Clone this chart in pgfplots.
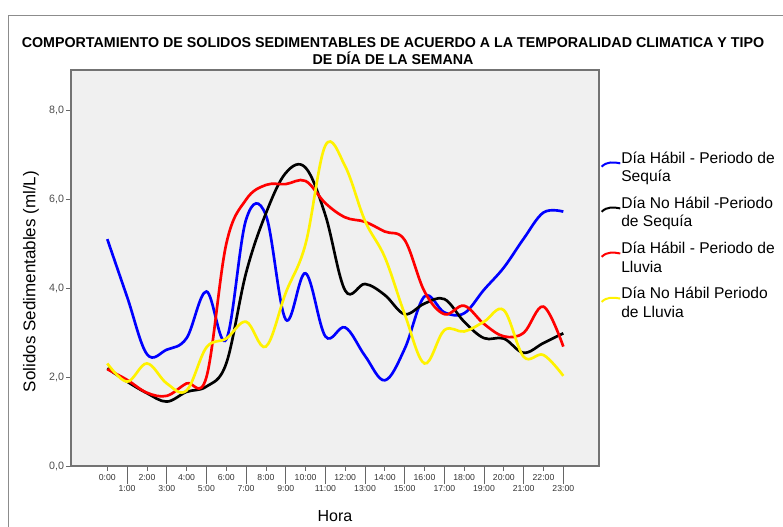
\documentclass[border=0pt]{standalone}
\usepackage{fontspec}
\setmainfont{Liberation Sans}
\usepackage{pgfplots}
\pgfplotsset{compat=1.18}
\definecolor{plotbg}{HTML}{F0F0F0}
\definecolor{frm}{HTML}{8C8C8C}

\begin{document}
\begin{tikzpicture}
% picture area: 783 x 527 px at 0.75pt per px, origin at the axis corner
\path[use as bounding box] (-53.25pt,-45.75pt) rectangle (534pt,349.5pt);
\draw[frm, line width=0.6pt] (-47.25pt,-50pt) -- (-47.25pt,338.25pt) -- (540pt,338.25pt);

\begin{axis}[
    at={(0pt,0pt)}, anchor=south west,
    scale only axis,
    width=396pt, height=297pt,
    xmin=-1.83, xmax=24.8,
    ymin=0, ymax=8.92,
    axis background/.style={fill=plotbg},
    axis line style={black!55, line width=0.8pt},
    tick align=outside,
    tick pos=left,
    tick style={black!60, line width=0.6pt},
    major tick length=3.5pt,
    xtick={0,2,...,22},
    xticklabels={0:00,2:00,4:00,6:00,8:00,10:00,12:00,14:00,16:00,18:00,20:00,22:00},
    extra x ticks={1,3,...,23},
    extra x tick labels={1:00,3:00,5:00,7:00,9:00,11:00,13:00,15:00,17:00,19:00,21:00,23:00},
    extra x tick style={major tick length=13.5pt, grid=none,
        xticklabel style={yshift=1.8pt}},
    xticklabel style={font=\fontsize{6.5}{7}\selectfont, text=black!80, inner sep=1.5pt, yshift=-1.5pt},
    ytick={0,2,4,6,8},
    yticklabels={{0,0},{2,0},{4,0},{6,0},{8,0}},
    yticklabel style={font=\fontsize{8}{9}\selectfont, text=black!70, inner sep=1.5pt},
    xlabel={Hora},
    xlabel style={font=\fontsize{12}{14}\selectfont, at={(axis description cs:0.5,-0.126)}, anchor=center},
    ylabel={Solidos Sedimentables (ml/L)},
    ylabel style={font=\fontsize{12.75}{15}\selectfont, at={(axis description cs:-0.0758,0.466)}, anchor=center},
    legend cell align=left,
    legend style={at={(axis description cs:0.995,0.80)}, anchor=north west,
        draw=none, fill=none, font=\fontsize{11.7}{13.7}\selectfont,
        row sep=10pt, column sep=0pt,
        nodes={align=left, inner sep=0pt}},
    legend image code/.code={
        \draw[#1, line width=1.5pt] (0pt,1pt) .. controls (4pt,5pt) and (9pt,4.5pt) .. (14pt,3.5pt);
    },
    every axis plot/.append style={smooth, tension=0.6, line width=2pt, no markers},
]
% Dia Habil - Periodo de Sequia
\addplot[color=blue] coordinates {
    (0,5.11) (1,3.81) (2,2.52) (3,2.62) (4,2.88) (5,3.93) (6,2.85) (7,5.55)
    (8,5.65) (9,3.30) (10,4.34) (11,2.92) (12,3.12) (13,2.48) (14,1.93) (15,2.64)
    (16,3.82) (17,3.46) (18,3.44) (19,3.97) (20,4.47) (21,5.12) (22,5.71) (23,5.73)
};
% Dia No Habil - Periodo de Sequia
\addplot[color=black] coordinates {
    (0,2.20) (1,1.90) (2,1.64) (3,1.45) (4,1.67) (5,1.79) (6,2.31) (7,4.35)
    (8,5.69) (9,6.60) (10,6.72) (11,5.65) (12,3.95) (13,4.10) (14,3.85) (15,3.42)
    (16,3.66) (17,3.76) (18,3.25) (19,2.88) (20,2.87) (21,2.55) (22,2.77) (23,2.99)
};
% Dia Habil - Periodo de Lluvia
\addplot[color=red] coordinates {
    (0,2.18) (1,1.94) (2,1.65) (3,1.58) (4,1.86) (5,2.00) (6,5.00) (7,6.00)
    (8,6.33) (9,6.35) (10,6.42) (11,5.92) (12,5.60) (13,5.50) (14,5.28) (15,5.09)
    (16,3.93) (17,3.42) (18,3.61) (19,3.20) (20,2.92) (21,3.00) (22,3.59) (23,2.69)
};
% Dia No Habil - Periodo de Lluvia
\addplot[color=yellow] coordinates {
    (0,2.31) (1,1.90) (2,2.31) (3,1.86) (4,1.70) (5,2.67) (6,2.87) (7,3.25)
    (8,2.69) (9,3.90) (10,5.00) (11,7.22) (12,6.75) (13,5.52) (14,4.70) (15,3.42)
    (16,2.31) (17,3.06) (18,3.03) (19,3.25) (20,3.51) (21,2.46) (22,2.50) (23,2.03)
};
\legend{{Día Hábil - Periodo de\\Sequía},{Día No Hábil -Periodo\\de Sequía},{Día Hábil - Periodo de\\Lluvia},{Día No Hábil Periodo\\de Lluvia}}
\end{axis}

\node[font=\bfseries\fontsize{10.7}{12.75}\selectfont, align=center] at (241.5pt,310.9pt)
    {COMPORTAMIENTO DE SOLIDOS SEDIMENTABLES DE ACUERDO A LA TEMPORALIDAD CLIMATICA Y TIPO\\DE DÍA DE LA SEMANA};
\end{tikzpicture}
\end{document}
